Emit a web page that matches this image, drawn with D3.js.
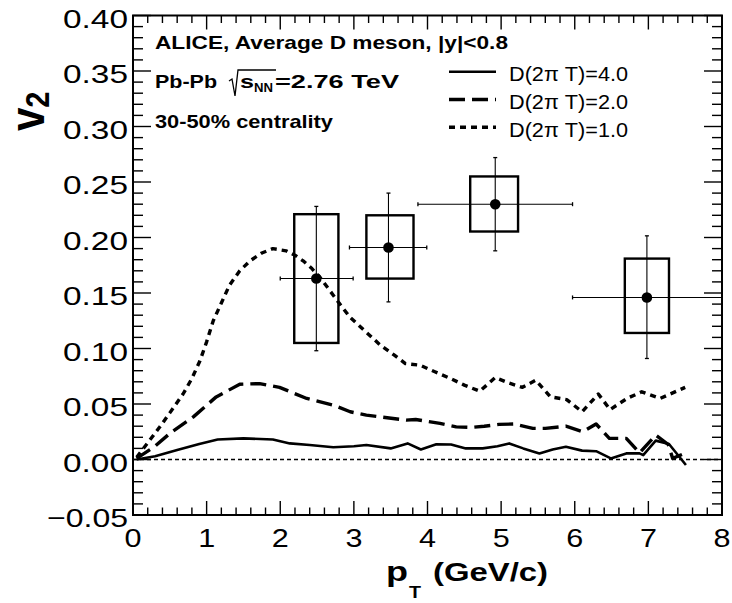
<!DOCTYPE html>
<html><head><meta charset="utf-8">
<script src="https://cdn.jsdelivr.net/npm/d3@7"></script>
<style>body{margin:0;background:#fff}svg{display:block}text{font-family:"Liberation Sans",Arial,sans-serif}</style>
</head><body><svg id="c" width="732" height="603"></svg>
<script>
// ---- data ----
const xTicks = [0,1,2,3,4,5,6,7,8];
const yTicks = [-0.05,0.00,0.05,0.10,0.15,0.20,0.25,0.30,0.35,0.40];
const yTickLabels = ["\u22120.05","0.00","0.05","0.10","0.15","0.20","0.25","0.30","0.35","0.40"];

const ptD4 = [0.05,0.3,0.6,0.9,1.15,1.5,1.9,2.13,2.4,2.72,3.0,3.17,3.5,3.73,3.91,4.12,4.32,4.52,4.75,4.95,5.11,5.3,5.52,5.7,5.88,6.1,6.29,6.49,6.7,6.88,6.93,7.1,7.28,7.51];
const v2D4 = [0.000,0.003,0.0085,0.014,0.018,0.019,0.018,0.0145,0.013,0.011,0.012,0.013,0.010,0.0145,0.009,0.0138,0.0135,0.010,0.010,0.012,0.0145,0.010,0.0055,0.009,0.0115,0.008,0.0075,0.001,0.0055,0.0055,0.004,0.017,0.014,-0.005];

const ptD2 = [0.05,0.3,0.5,0.82,1.13,1.45,1.72,1.99,2.36,2.72,2.95,3.17,3.36,3.71,3.84,4.17,4.39,4.6,4.77,4.97,5.17,5.43,5.6,5.88,6.11,6.29,6.47,6.7,6.88,7.1,7.27,7.33,7.51];
const v2D2 = [0.001,0.012,0.0235,0.0384,0.0564,0.0678,0.0684,0.065,0.055,0.049,0.043,0.040,0.0384,0.0355,0.036,0.0325,0.0294,0.029,0.030,0.0316,0.032,0.028,0.028,0.030,0.025,0.032,0.019,0.019,0.006,0.022,0.0135,0.001,0.006];

const ptD1 = [0.05,0.2,0.36,0.5,0.68,0.8,0.91,1.0,1.09,1.2,1.31,1.45,1.59,1.75,1.9,2.08,2.2,2.31,2.43,2.54,2.63,2.72,2.81,2.95,3.13,3.36,3.55,3.7,3.9,4.1,4.31,4.5,4.71,4.92,5.1,5.29,5.47,5.67,5.89,6.1,6.32,6.48,6.71,6.91,7.16,7.5];
const v2D1 = [0.002,0.015,0.029,0.042,0.059,0.073,0.089,0.106,0.125,0.141,0.157,0.170,0.179,0.186,0.190,0.188,0.184,0.179,0.172,0.164,0.156,0.148,0.140,0.128,0.117,0.103,0.094,0.0864,0.085,0.079,0.073,0.067,0.0615,0.0738,0.069,0.065,0.0714,0.0564,0.054,0.043,0.059,0.045,0.055,0.061,0.055,0.065];

const ptMean  = [2.49, 3.47, 4.92, 6.98];
const v2Mean  = [0.163, 0.191, 0.230, 0.146];
const ptLo    = [2.0, 2.94, 3.87, 5.97];
const ptHi    = [2.99, 3.99, 5.97, 8.0];
const statLo  = [0.098, 0.142, 0.188, 0.091];
const statHi  = [0.228, 0.240, 0.272, 0.2015];
const sysPtLo = [2.19, 3.17, 4.58, 6.68];
const sysPtHi = [2.79, 3.81, 5.23, 7.28];
const sysLo   = [0.105, 0.163, 0.2054, 0.114];
const sysHi   = [0.221, 0.220, 0.255, 0.181];

const legendLabels = ["D(2\u03c0 T)=4.0","D(2\u03c0 T)=2.0","D(2\u03c0 T)=1.0"];

// ---- drawing ----
const svg = d3.select("#c");
const x = d3.scaleLinear().domain([0,8]).range([133,722]);
const y = d3.scaleLinear().domain([-0.05,0.40]).range([515,15.5]);

const styles = [
  {w:2.6, dash:null},
  {w:3.4, dash:"16,7"},
  {w:3.4, dash:"6,5"}
];
const curves = [[ptD4,v2D4],[ptD2,v2D2],[ptD1,v2D1]];
const line = d3.line().x(d=>x(d[0])).y(d=>y(d[1])).curve(d3.curveLinear);

svg.append("g").selectAll("path").data(curves).join("path")
  .attr("d", c => line(c[0].map((p,i)=>[p,c[1][i]])))
  .attr("fill","none").attr("stroke","#000")
  .attr("stroke-width",(c,i)=>styles[i].w)
  .attr("stroke-dasharray",(c,i)=>styles[i].dash)
  .attr("stroke-linejoin","round");

// zero line
svg.append("line").attr("x1",x(0)).attr("x2",x(8)).attr("y1",y(0)).attr("y2",y(0))
  .attr("stroke","#000").attr("stroke-width",1.3).attr("stroke-dasharray","4,3");

// data points
const pts = ptMean.map((p,i)=>({p, v:v2Mean[i], xl:ptLo[i], xh:ptHi[i], yl:statLo[i], yh:statHi[i],
  bx0:sysPtLo[i], bx1:sysPtHi[i], by0:sysLo[i], by1:sysHi[i]}));
const gp = svg.append("g");
gp.selectAll("rect").data(pts).join("rect")
  .attr("x",d=>x(d.bx0)).attr("width",d=>x(d.bx1)-x(d.bx0))
  .attr("y",d=>y(d.by1)).attr("height",d=>y(d.by0)-y(d.by1))
  .attr("fill","none").attr("stroke","#000").attr("stroke-width",2.4);
gp.selectAll("line.h").data(pts).join("line").attr("class","h")
  .attr("x1",d=>x(d.xl)).attr("x2",d=>x(d.xh)).attr("y1",d=>y(d.v)).attr("y2",d=>y(d.v))
  .attr("stroke","#000").attr("stroke-width",1.1);
gp.selectAll("line.v").data(pts).join("line").attr("class","v")
  .attr("x1",d=>x(d.p)).attr("x2",d=>x(d.p)).attr("y1",d=>y(d.yl)).attr("y2",d=>y(d.yh))
  .attr("stroke","#000").attr("stroke-width",1.1);
// end caps
pts.forEach(d=>{
  [[x(d.xl),y(d.v),0],[x(d.xh),y(d.v),0],[x(d.p),y(d.yl),1],[x(d.p),y(d.yh),1]].forEach(([cx,cy,vert])=>{
    gp.append("line").attr("x1",vert?cx-2:cx).attr("x2",vert?cx+2:cx)
      .attr("y1",vert?cy:cy-2).attr("y2",vert?cy:cy+2).attr("stroke","#000").attr("stroke-width",1.3);
  });
});
gp.selectAll("circle").data(pts).join("circle")
  .attr("cx",d=>x(d.p)).attr("cy",d=>y(d.v)).attr("r",5.3).attr("fill","#000");

// frame
svg.append("rect").attr("x",x(0)).attr("y",y(0.40)).attr("width",x(8)-x(0)).attr("height",y(-0.05)-y(0.40))
  .attr("fill","none").attr("stroke","#000").attr("stroke-width",2);

// ticks
const tg = svg.append("g").attr("stroke","#000").attr("stroke-width",1.4);
const yMinor = d3.range(-5,41).map(k=>k/100);
yMinor.forEach(v=>{
  const major = Math.abs(Math.round(v*100)%5)===0;
  const L = major?18:10;
  tg.append("line").attr("x1",x(0)).attr("x2",x(0)+L).attr("y1",y(v)).attr("y2",y(v));
  tg.append("line").attr("x1",x(8)).attr("x2",x(8)-L).attr("y1",y(v)).attr("y2",y(v));
});
const xMinor = d3.range(0,41).map(k=>k/5);
xMinor.forEach(v=>{
  const major = Math.round(v*5)%5===0;
  const L = major?14:7.5;
  tg.append("line").attr("x1",x(v)).attr("x2",x(v)).attr("y1",y(-0.05)).attr("y2",y(-0.05)-L);
  tg.append("line").attr("x1",x(v)).attr("x2",x(v)).attr("y1",y(0.40)).attr("y2",y(0.40)+L);
});

// tick labels
svg.append("g").selectAll("text").data(yTicks).join("text")
  .attr("x",128).attr("y",v=>y(v)+12).attr("text-anchor","end")
  .attr("font-size",26)
  .attr("textLength",(v,i)=>i===0?81:65).attr("lengthAdjust","spacingAndGlyphs")
  .text((v,i)=>yTickLabels[i]);
svg.append("g").selectAll("text").data(xTicks).join("text")
  .attr("x",v=>x(v)-8.5).attr("y",547).attr("font-size",26)
  .attr("textLength",17).attr("lengthAdjust","spacingAndGlyphs")
  .text(v=>String(v));

// axis titles
const yt = svg.append("text").attr("transform","translate(44,131) scale(1.15,1) rotate(-90)")
  .attr("font-weight","bold").attr("font-size",42);
yt.append("tspan").text("v");
yt.append("tspan").attr("font-size",29).attr("dy",4).text("2");

svg.append("text").attr("x",386).attr("y",581).attr("font-weight","bold").attr("font-size",27)
  .attr("textLength",22).attr("lengthAdjust","spacingAndGlyphs").text("p");
svg.append("text").attr("x",409).attr("y",598).attr("font-weight","bold").attr("font-size",17)
  .attr("textLength",12).attr("lengthAdjust","spacingAndGlyphs").text("T");
svg.append("text").attr("x",433).attr("y",581).attr("font-weight","bold").attr("font-size",26)
  .attr("textLength",115).attr("lengthAdjust","spacingAndGlyphs").text("(GeV/c)");

// annotations
function t(xp,yp,s,len,size,weight){
  return svg.append("text").attr("x",xp).attr("y",yp).attr("font-size",size).attr("font-weight",weight||"bold")
    .attr("textLength",len).attr("lengthAdjust","spacingAndGlyphs").text(s);
}
t(155,48.5,"ALICE, Average D meson, |y|<0.8",353,18.5);
t(155,87.5,"Pb-Pb",62,18.5);
t(240,87.5,"s",14,18.5);
t(254,92,"NN",19,12.5);
t(275,87.5,"=2.76 TeV",124,18.5);
svg.append("path").attr("d","M229,81 L232,79 L235,96 L238,70 L276,70")
  .attr("fill","none").attr("stroke","#000").attr("stroke-width",1.3);
t(155,127.5,"30-50% centrality",178,18.5);

// legend
const legY = [71.7, 99.5, 127.3];
legendLabels.forEach((s,i)=>{
  svg.append("line").attr("x1",449).attr("x2",496).attr("y1",legY[i]).attr("y2",legY[i])
    .attr("stroke","#000").attr("stroke-width",styles[i].w).attr("stroke-dasharray",styles[i].dash);
  t(509,legY[i]+9.5,s,119,20.5,"normal");
});
</script></body></html>
